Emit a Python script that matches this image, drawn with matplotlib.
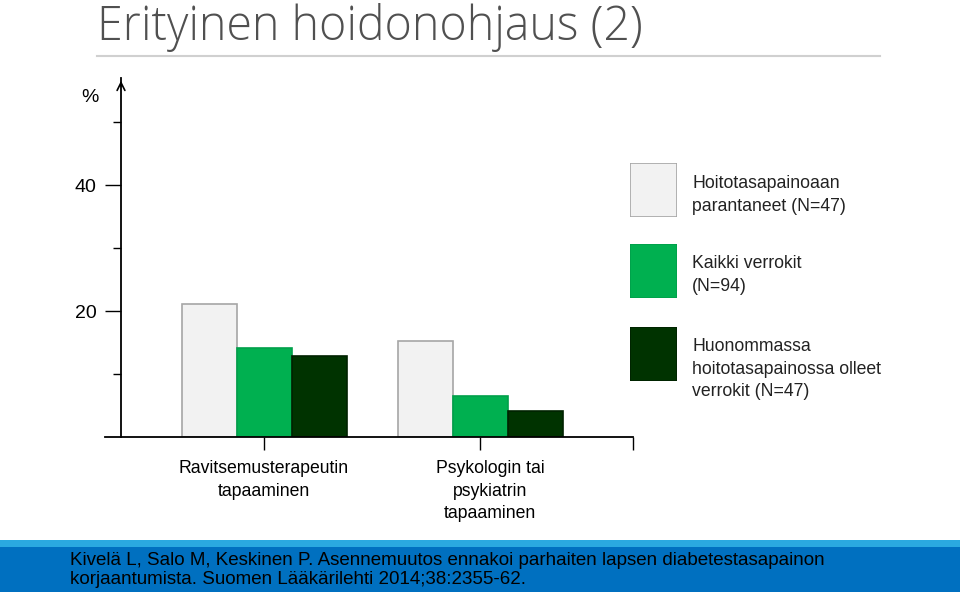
import matplotlib.pyplot as plt
from matplotlib import font_manager

# === data ===
categories = ["Ravitsemusterapeutin\ntapaaminen", "Psykologin tai\npsykiatrin\ntapaaminen"]
series_names = ["Hoitotasapainoaan\nparantaneet (N=47)",
                "Kaikki verrokit\n(N=94)",
                "Huonommassa\nhoitotasapainossa olleet\nverrokit (N=47)"]
improved = [21.1, 15.2]
all_controls = [14.1, 6.5]
poor_controls = [12.9, 4.1]
yticks_major = [20, 40]
yticks_minor = [10, 30, 50]
title = "Erityinen hoidonohjaus (2)"
source = ("Kivelä L, Salo M, Keskinen P. Asennemuutos ennakoi parhaiten lapsen diabetestasapainon\n"
          "korjaantumista. Suomen Lääkärilehti 2014;38:2355-62.")

fill_colors = ['#F2F2F2', '#00B050', '#003300']
edge_colors = ['#A6A6A6', '#00A04A', '#002200']

names = {f.name for f in font_manager.fontManager.ttflist}
narrow = 'Liberation Sans Narrow' if 'Liberation Sans Narrow' in names else 'Liberation Sans'
plt.rcParams['font.family'] = [narrow, 'DejaVu Sans']

W, H = 960, 592
fig = plt.figure(figsize=(W / 100, H / 100), dpi=100)

def px(x0, y0, x1, y1):
    # pixel box (top-left origin) -> figure fraction rect
    return [x0 / W, 1 - y1 / H, (x1 - x0) / W, (y1 - y0) / H]

# === title ===
fig.text(97 / W, 1 - 40 / H, title, fontsize=33.5, color='#505050', family=['Open Sans', 'DejaVu Sans'],
         fontweight=300, va='baseline', ha='left')
fig.add_artist(plt.Line2D([97 / W, 880 / W], [1 - 56 / H, 1 - 56 / H], color='#D0D0D0', lw=1.5))

# === chart ===
ax = fig.add_axes(px(121, 78, 633, 437))
unit = 216.0
ax.set_xlim((121 - 264) / unit, (633 - 264) / unit)
ax.set_ylim(0, 57)

w = 55 / unit
series = [improved, all_controls, poor_controls]
for k, vals in enumerate(series):
    xs = [i + (k - 1) * w for i in range(len(categories))]
    ax.bar(xs, vals, width=w, color=fill_colors[k], edgecolor=edge_colors[k], linewidth=1.2, zorder=2)

for s in ['top', 'right', 'bottom']:
    ax.spines[s].set_visible(False)
ax.spines['left'].set_linewidth(1.3)

xl = ax.get_xlim()
ax.plot([(105 - 264) / unit, xl[1]], [0, 0], color='black', lw=1.3, clip_on=False, zorder=3)
ax.annotate('', xy=(0, 1.0), xytext=(0, 0.97), xycoords='axes fraction',
            arrowprops=dict(arrowstyle='->', color='black', lw=1.2, mutation_scale=14))

ax.set_yticks(yticks_major)
ax.set_yticklabels([str(v) for v in yticks_major])
ax.set_yticks(yticks_minor, minor=True)
ax.tick_params(axis='y', which='major', length=11.5, width=1.0, pad=6, labelsize=14)
ax.tick_params(axis='y', which='minor', length=5.8, width=1.0)

ax.set_xticks([0, 1, xl[1]])
ax.set_xticklabels([])
ax.tick_params(axis='x', which='major', length=9.5, width=1.0, direction='out')

label_dx = [0, 10 / unit]
for i, cat in enumerate(categories):
    ax.text(i + label_dx[i], -3.6, cat, ha='center', va='top', fontsize=12.7,
            linespacing=1.45, clip_on=False)

fig.text(90 / W, 1 - 97 / H, '%', fontsize=14, ha='center', va='center')

# === legend ===
box_y = [163, 244, 327]
text_y = [195, 275, 369]
for k in range(3):
    lax = fig.add_axes(px(630, box_y[k], 677, box_y[k] + 54))
    lax.set_axis_off()
    lax.add_patch(plt.Rectangle((0, 0), 1, 1, facecolor=fill_colors[k], edgecolor=edge_colors[k],
                                lw=1.2, transform=lax.transAxes))
    fig.text(692 / W, 1 - text_y[k] / H, series_names[k], fontsize=12.7, ha='left', va='center',
             color='#222222', linespacing=1.45)

# === source banner ===
fig.add_artist(plt.Rectangle((0, 0), 1, 52 / H, transform=fig.transFigure, facecolor='#0070C0',
                             edgecolor='none'))
fig.add_artist(plt.Rectangle((0, 45 / H), 1, 7 / H, transform=fig.transFigure, facecolor='#2AA9E0',
                             edgecolor='none'))
fig.text(70 / W, 1 - 570 / H, source, fontsize=13.5, ha='left', va='center', color='black',
         family=['Liberation Sans', 'DejaVu Sans'], linespacing=1.1)

fig.savefig('out.png', dpi=100)
